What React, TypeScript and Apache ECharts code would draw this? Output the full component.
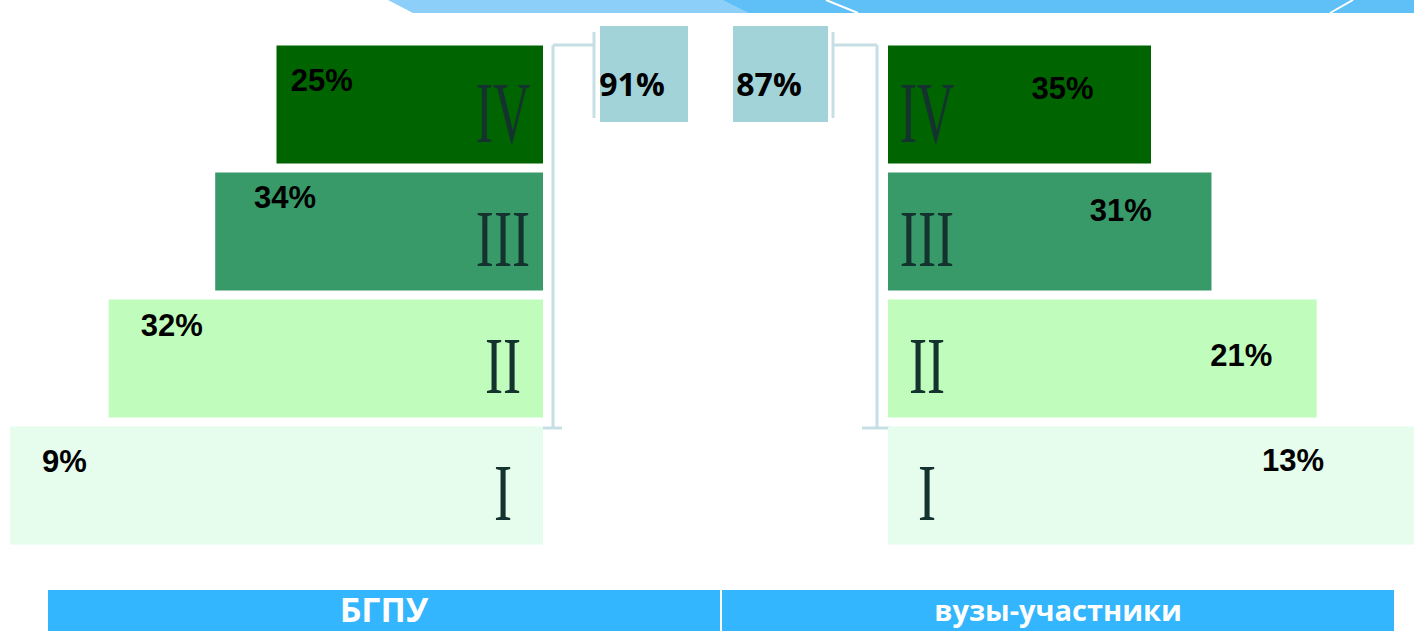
import React, { useEffect, useRef } from "react";
import * as echarts from "echarts";

// ---- data ----
const levels = ["I", "II", "III", "IV"];
const levelWidths = [100, 81.5, 61.5, 50]; // pyramid step widths (same for both sides)
const bgpuShares = [9, 32, 34, 25];
const vuzShares = [13, 21, 31, 35];
const groupNames = ["БГПУ", "вузы-участники"];

// ---- styles / layout ----
const levelColors = ["#e6fced", "#c0fdbc", "#389a68", "#006400"];
const numeralColor = "#14332f";
const leftLabelOffsets = [[-212, -24], [-154, -33], [-94, -34], [-88, -24]];
const rightLabelOffsets = [[142, -25], [139, -3], [71, -21], [43, -16]];
const bracketColor = "#c6dfe4";
const boxColor = "#a2d3d8";
const barBlue = "#33b6fd";

export default function App() {
  const ref = useRef<HTMLDivElement>(null);
  useEffect(() => {
    if (!ref.current) return;
    const chart = echarts.init(ref.current, undefined, { renderer: "svg" });

    const mkSeries = (idx: number, shares: number[], offsets: number[][]) => ({
      type: "bar",
      xAxisIndex: idx,
      yAxisIndex: idx,
      barCategoryGap: "7%",
      data: levelWidths.map((w, i) => ({
        value: w,
        itemStyle: { color: levelColors[i] },
        label: { offset: offsets[i] },
      })),
      label: {
        show: true,
        position: "inside",
        formatter: (p: any) => shares[p.dataIndex] + "%",
        fontFamily: "Liberation Sans, Arial, sans-serif",
        fontWeight: "bold",
        fontSize: 31,
        color: "#000",
      },
      silent: true,
    });

    chart.setOption({
      animation: false,
      backgroundColor: "#ffffff",
      grid: [
        { left: 10, width: 533, top: 41, height: 508 },
        { left: 888, width: 533, top: 41, height: 508 },
      ],
      xAxis: [
        { type: "value", gridIndex: 0, min: 0, max: 100, inverse: true, show: false },
        { type: "value", gridIndex: 1, min: 0, max: 100, show: false },
      ],
      yAxis: [
        { type: "category", gridIndex: 0, data: levels, show: false },
        { type: "category", gridIndex: 1, data: levels, show: false },
      ],
      series: [mkSeries(0, bgpuShares, leftLabelOffsets), mkSeries(1, vuzShares, rightLabelOffsets)],
    });

    // derived positions through the axes
    const leftZero = chart.convertToPixel({ xAxisIndex: 0 }, 0) as number;
    const rightZero = chart.convertToPixel({ xAxisIndex: 1 }, 0) as number;
    const numerals: any[] = [];
    levels.forEach((lv, i) => {
      const cy = chart.convertToPixel({ yAxisIndex: 0 }, lv) as number;
      const common = {
        type: "text",
        y: cy + 8,
        scaleX: i === 3 ? 0.6 : 0.68,
        z: 10,
        silent: true,
        style: {
          text: lv,
          fill: numeralColor,
          font: `${i === 3 ? 86 : 80}px "Liberation Serif", "Times New Roman", serif`,
          align: "center",
          verticalAlign: "middle",
        },
      };
      numerals.push({ ...common, x: leftZero - 40 });
      numerals.push({ ...common, x: rightZero + 39 });
    });

    const totals = [bgpuShares, vuzShares].map((s) => s.slice(1).reduce((a, b) => a + b, 0));

    const line = (x1: number, y1: number, x2: number, y2: number) => ({
      type: "line",
      silent: true,
      shape: { x1, y1, x2, y2 },
      style: { stroke: bracketColor, lineWidth: 3 },
    });

    const graphics: any[] = [
      // top banner
      { type: "polygon", silent: true, shape: { points: [[388, 0], [722, 0], [748, 13], [413, 13]] }, style: { fill: "#8ccff9" } },
      { type: "polygon", silent: true, shape: { points: [[722, 0], [1414, 0], [1414, 13], [748, 13]] }, style: { fill: "#5ec0f6" } },
      { type: "line", silent: true, shape: { x1: 826, y1: 0, x2: 858, y2: 13 }, style: { stroke: "#ffffff", lineWidth: 2 } },
      { type: "line", silent: true, shape: { x1: 1353, y1: 0, x2: 1330, y2: 13 }, style: { stroke: "#ffffff", lineWidth: 2 } },
      // brackets
      line(553, 45, 553, 428),
      line(543, 428, 562, 428),
      line(553, 45, 594, 45),
      line(594, 32, 594, 118),
      line(877, 45, 877, 428),
      line(862, 428, 890, 428),
      line(833, 45, 877, 45),
      line(833, 32, 833, 118),
      // total boxes
      { type: "rect", silent: true, shape: { x: 600, y: 26, width: 88, height: 96 }, style: { fill: boxColor } },
      { type: "rect", silent: true, shape: { x: 733, y: 26, width: 95, height: 96 }, style: { fill: boxColor } },
      {
        type: "text", silent: true, x: 632, y: 83,
        style: { text: totals[0] + "%", fill: "#000", font: 'bold 32px "Open Sans", sans-serif', align: "center", verticalAlign: "middle" },
      },
      {
        type: "text", silent: true, x: 769, y: 83,
        style: { text: totals[1] + "%", fill: "#000", font: 'bold 32px "Open Sans", sans-serif', align: "center", verticalAlign: "middle" },
      },
      // bottom group bar
      { type: "rect", silent: true, shape: { x: 48, y: 590, width: 672, height: 41 }, style: { fill: barBlue } },
      { type: "rect", silent: true, shape: { x: 722, y: 590, width: 672, height: 41 }, style: { fill: barBlue } },
      {
        type: "text", silent: true, x: 384, y: 609,
        style: { text: groupNames[0], fill: "#fff", font: 'bold 34px "Open Sans", sans-serif', align: "center", verticalAlign: "middle" },
      },
      {
        type: "text", silent: true, x: 1058, y: 609,
        style: { text: groupNames[1], fill: "#fff", font: 'bold 29px "Open Sans", sans-serif', align: "center", verticalAlign: "middle" },
      },
      ...numerals,
    ];

    chart.setOption({ graphic: graphics });

    return () => chart.dispose();
  }, []);

  return (
    <div
      ref={ref}
      style={{ position: "fixed", left: 0, top: 0, width: 1414, height: 631 }}
    />
  );
}
